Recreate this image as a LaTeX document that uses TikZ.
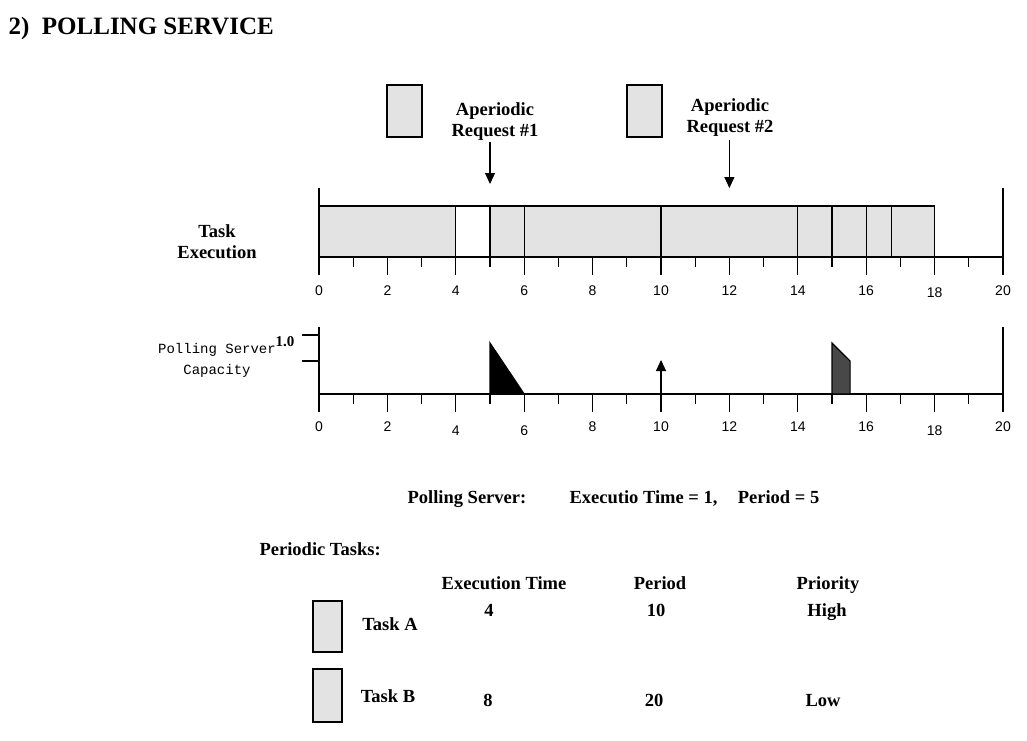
\documentclass[tikz,border=0pt]{standalone}
\usepackage{fontspec}
\setmainfont{Liberation Serif}
\newfontfamily\monof{Liberation Mono}
\newfontfamily\axf{Liberation Sans}
\usetikzlibrary{arrows.meta}
\definecolor{boxgray}{HTML}{E3E3E3}
\definecolor{darkfill}{HTML}{484848}
\begin{document}
\begin{tikzpicture}[x=1pt,y=-1pt,line width=1.2pt,
  lbl/.style={font=\bfseries\fontsize{18.5}{21}\selectfont, align=center, inner sep=0pt},
  cell/.style={lbl, text height=12pt, text depth=0pt},
  ttl/.style={font=\bfseries\fontsize{25}{27}\selectfont, inner sep=0pt, anchor=west},
  axl/.style={font=\axf\fontsize{14}{14}\selectfont, inner sep=0pt},
  mono/.style={font=\monof\fontsize{14}{21}\selectfont, align=center, inner sep=0pt},
  gbox/.style={draw, fill=boxgray, line width=1.2pt},
  arr/.style={-{Triangle[width=10pt,length=11pt]}, line width=1.2pt}]
\useasboundingbox (0,0) rectangle (1027,740);
\fill[white] (0,0) rectangle (1027,740);

% title
\node[ttl] (title) at (8,28) {2)\ \ POLLING SERVICE};

% aperiodic requests
\node[gbox, minimum width=35pt, minimum height=52pt, inner sep=0pt] (rq1box) at (404.5,111) {};
\node[gbox, minimum width=35pt, minimum height=52pt, inner sep=0pt] (rq2box) at (644.5,111) {};
\node[lbl] (rq1) at (495,121.5) {Aperiodic\\Request \#1};
\node[lbl] (rq2) at (730,117.5) {Aperiodic\\Request \#2};

\node[lbl] (taskexec) at (217,241.5) {Task\\Execution};
\node[mono] (psc) at (217,360.5) {Polling Server\\Capacity};
\node[font=\bfseries\fontsize{15}{15}\selectfont, inner sep=0pt] (one) at (285,342) {1.0};

% ---------- timeline 1 ----------
\begin{scope}[xshift=319pt, x=34.2pt]
  \fill[boxgray] (0,206) rectangle (4,257);
  \fill[boxgray] (5,206) rectangle (18,257);
  \draw (0,206) -- (18,206);
  \draw (0,188) -- (0,275);
  \draw (20,188) -- (20,275);
  \draw (0,257) -- (20,257);
  \foreach \t in {4,6,10,14,16,18} \draw (\t,206) -- (\t,275);
  \foreach \t in {5,15} \draw (\t,206) -- (\t,267);
  \draw (16.75,206) -- (16.75,257);
  \foreach \t in {2,8,12} \draw (\t,257) -- (\t,275);
  \foreach \t in {1,3,7,9,11,13,17,19} \draw (\t,257) -- (\t,267);
  \foreach \t in {0,2,4,6,8,10,12,14,16,20} \node[axl] (a\t) at (\t,291) {\t};
  \node[axl] (a18) at (18,293) {18};

  \coordinate (r1s) at (5,142);
  \coordinate (r1e) at (5,184);
  \coordinate (r2s) at (12,140);
  \coordinate (r2e) at (12,188);
  \draw[arr] (r1s) -- (r1e);
  \draw[arr] (r2s) -- (r2e);

  % ---------- timeline 2 ----------
  \draw (0,327) -- (0,412);
  \draw (20,327) -- (20,412);
  \draw (0,394) -- (20,394);
  \foreach \t in {2,4,6,8,10,12,14,16,18} \draw (\t,394) -- (\t,412);
  \foreach \t in {1,3,5,7,9,11,13,15,17,19} \draw (\t,394) -- (\t,404);
  \filldraw[fill=black, draw=black] (5,343) -- (5,394) -- (6,394) -- cycle;
  \filldraw[fill=darkfill, draw=black] (15,394) -- (15,343) -- (15.53,361) -- (15.53,394) -- cycle;
  \coordinate (u0) at (10,412);
  \coordinate (u1) at (10,360);
  \draw[arr] (u0) -- (u1);
  \foreach \t in {0,2,8,10,12,14,16,20} \node[axl] (b\t) at (\t,427) {\t};
  \foreach \t in {4,6,18} \node[axl] (b\t) at (\t,431) {\t};
\end{scope}
\draw (302,335) -- (319,335);
\draw (302,361) -- (319,361);

% ---------- polling server line ----------
\node[cell, anchor=west] (psl) at (407,497) {Polling Server:};
\node[cell, anchor=west] (psv) at (569,497) {Executio Time = 1,\hspace{1.1em}Period = 5};

\node[cell, anchor=west] (pt) at (259,549) {Periodic Tasks:};

% table
\node[cell] (hET) at (504,583) {Execution Time};
\node[cell] (hP) at (660,583) {Period};
\node[cell] (hPr) at (828,583) {Priority};

\node[gbox, minimum width=29pt, minimum height=51pt, inner sep=0pt] (boxA) at (327.5,626.5) {};
\node[gbox, minimum width=29pt, minimum height=53pt, inner sep=0pt] (boxB) at (327.5,695.5) {};
\node[cell] (tA) at (390,624) {Task A};
\node[cell] (tB) at (388,696) {Task B};
\node[cell] (a4v) at (489,610) {4};
\node[cell] (a10v) at (656,610) {10};
\node[cell] (aHi) at (827,610) {High};
\node[cell] (b8v) at (488,700) {8};
\node[cell] (b20v) at (654,700) {20};
\node[cell] (bLo) at (823,700) {Low};
\end{tikzpicture}
\end{document}
